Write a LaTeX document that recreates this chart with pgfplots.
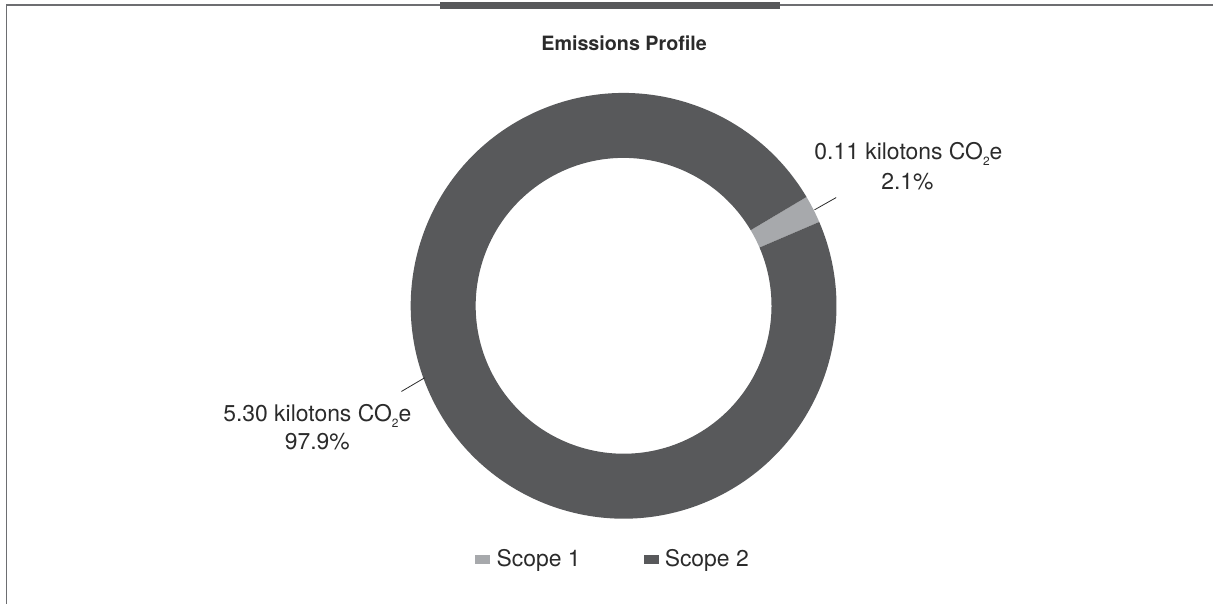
\documentclass[border=0pt]{standalone}
\usepackage{pgfplots}
\pgfplotsset{compat=1.18}
\usepackage{fontspec}
\setmainfont{TeX Gyre Heros}
\definecolor{sA}{HTML}{A7A9AC}
\definecolor{sB}{HTML}{58595B}
\definecolor{txt}{HTML}{2B2B2B}
\definecolor{frame}{HTML}{6D6E71}
% data: kilotons CO2e and share (%)
\def\ktA{0.11}\def\pcA{2.1}
\def\ktB{5.30}\def\pcB{97.9}
\def\cx{624}\def\cy{306}
\def\Ro{213}\def\Ri{148}
\def\startang{30.76}
\newcommand{\sub}{\raisebox{-0.55ex}{\fontsize{12}{12}\selectfont 2}}
\begin{document}
\begin{tikzpicture}
\begin{axis}[
  width=1214bp, height=604bp, scale only axis,
  xmin=0, xmax=1214, ymin=0, ymax=604, y dir=reverse,
  hide axis, clip=false,
]
\path (axis cs:0,0) rectangle (axis cs:1214,604);
% frame
\draw[frame, line width=1.6bp] (axis cs:6.5,604) -- (axis cs:6.5,5.3) -- (axis cs:1214,5.3);
\fill[sB] (axis cs:440,2) rectangle (axis cs:781,9.3);
% title
\node[anchor=base, text=txt, font=\fontsize{19.8}{22}\selectfont\bfseries] at (axis cs:624.5,50.7) {Emissions Profile};
% donut
\pgfmathsetmacro{\aS}{\startang}
\pgfmathsetmacro{\aM}{\startang-3.6*\pcA}
\pgfmathsetmacro{\aE}{\aM-3.6*\pcB}
\fill[sA] (axis cs:\cx,\cy) ++(\aS:\Ro bp) arc[start angle=\aS, end angle=\aM, radius=\Ro bp]
   -- ([shift={(\aM:\Ri bp)}]axis cs:\cx,\cy) arc[start angle=\aM, end angle=\aS, radius=\Ri bp] -- cycle;
\fill[sB] (axis cs:\cx,\cy) ++(\aM:\Ro bp) arc[start angle=\aM, end angle=\aE, radius=\Ro bp]
   -- ([shift={(\aE:\Ri bp)}]axis cs:\cx,\cy) arc[start angle=\aE, end angle=\aM, radius=\Ri bp] -- cycle;
% leader lines
\draw[txt, line width=0.8bp] (axis cs:815,210) -- (axis cs:836.7,197.7);
\draw[txt, line width=0.8bp] (axis cs:401.7,391.7) -- (axis cs:425,378);
% data labels
\node[anchor=base, text=txt, font=\fontsize{23}{27}\selectfont] at (axis cs:909,159.3) {\ktA\ kilotons CO\sub e};
\node[anchor=base, text=txt, font=\fontsize{23}{27}\selectfont] at (axis cs:908,190) {\pcA\%};
\node[anchor=base, text=txt, font=\fontsize{23}{27}\selectfont] at (axis cs:317.5,421.6) {\ktB\ kilotons CO\sub e};
\node[anchor=base, text=txt, font=\fontsize{23}{27}\selectfont] at (axis cs:317.5,450) {\pcB\%};
% legend
\fill[sA] (axis cs:475,555) rectangle (axis cs:490,564);
\node[anchor=base west, inner sep=0pt, text=txt, font=\fontsize{23}{27}\selectfont] at (axis cs:496.7,566.7) {Scope 1};
\fill[sB] (axis cs:644,555) rectangle (axis cs:659,564);
\node[anchor=base west, inner sep=0pt, text=txt, font=\fontsize{23}{27}\selectfont] at (axis cs:665,566.7) {Scope 2};
\end{axis}
\end{tikzpicture}
\end{document}
